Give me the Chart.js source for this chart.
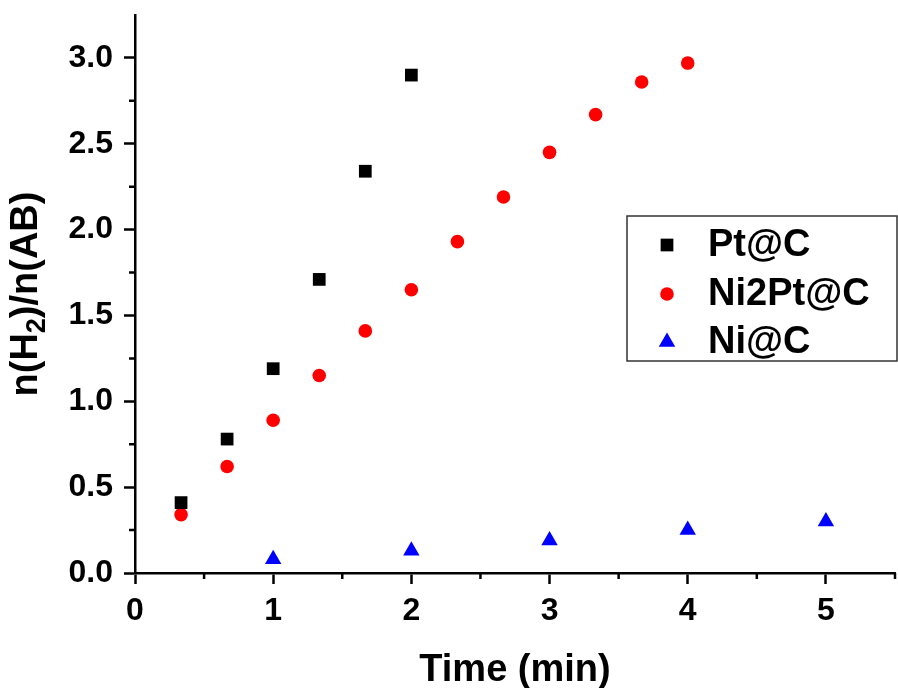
<!DOCTYPE html>
<html>
<head>
<meta charset="utf-8">
<script src="https://cdn.jsdelivr.net/npm/chart.js@4/dist/chart.umd.min.js"></script>
<style>
  html, body { margin: 0; padding: 0; background: #fff; overflow: hidden; }
  #wrap { width: 898px; height: 688px; position: relative; }
  canvas { display: block; }
</style>
</head>
<body>
<div id="wrap"><canvas id="chart"></canvas></div>
<script>
// data
const ptTime = [1/3, 2/3, 1, 4/3, 5/3, 2];
const ptValues = [0.41, 0.78, 1.19, 1.71, 2.34, 2.90];

const ni2ptTime = [1/3, 2/3, 1, 4/3, 5/3, 2, 7/3, 8/3, 3, 10/3, 11/3, 4];
const ni2ptValues = [0.34, 0.62, 0.89, 1.15, 1.41, 1.65, 1.93, 2.19, 2.45, 2.67, 2.86, 2.97];

const niTime = [1, 2, 3, 4, 5];
const niValues = [0.08, 0.13, 0.19, 0.25, 0.30];

const seriesNames = ['Pt@C', 'Ni2Pt@C', 'Ni@C'];
const xTicks = [0, 1, 2, 3, 4, 5];
const yTicks = [0.0, 0.5, 1.0, 1.5, 2.0, 2.5, 3.0];

const FONT = "'Liberation Sans', Arial, sans-serif";

function toPoints(xs, ys) {
    return xs.map((x, i) => ({ x: x, y: ys[i] }));
}

// minor ticks, x tick labels, axis titles and the boxed legend
const extras = {
    id: 'extras',
    afterDraw(chart) {
        const ctx = chart.ctx;
        const xs = chart.scales.x;
        const ys = chart.scales.y;
        const area = chart.chartArea;

        ctx.save();
        ctx.strokeStyle = '#000';
        ctx.lineWidth = 2.5;
        ctx.beginPath();
        for (let v = 0.5; v < 5.6; v += 1) {
            const px = xs.getPixelForValue(v);
            ctx.moveTo(px, area.bottom);
            ctx.lineTo(px, area.bottom + 6);
        }
        for (let v = 0.25; v < 3.25; v += 0.5) {
            const py = ys.getPixelForValue(v);
            ctx.moveTo(area.left, py);
            ctx.lineTo(area.left - 6, py);
        }
        ctx.stroke();

        ctx.fillStyle = '#000';
        ctx.font = 'bold 32px ' + FONT;
        ctx.textAlign = 'center';
        ctx.textBaseline = 'alphabetic';
        xTicks.forEach(v => {
            ctx.fillText(String(v), xs.getPixelForValue(v), area.bottom + 47);
        });

        // x title
        ctx.font = 'bold 38px ' + FONT;
        ctx.fillText('Time (min)', (area.left + area.right) / 2, 681);

        // y title with subscript
        ctx.save();
        ctx.translate(37, (area.top + area.bottom) / 2);
        ctx.rotate(-Math.PI / 2);
        const big = 'bold 38px ' + FONT;
        const small = 'bold 27px ' + FONT;
        const parts = [['n(H', big, 0], ['2', small, 8], [')/n(AB)', big, 0]];
        let total = 0;
        parts.forEach(p => { ctx.font = p[1]; total += ctx.measureText(p[0]).width; });
        let cx = -total / 2;
        ctx.textAlign = 'left';
        parts.forEach(p => {
            ctx.font = p[1];
            ctx.fillText(p[0], cx, p[2]);
            cx += ctx.measureText(p[0]).width;
        });
        ctx.restore();

        // legend
        ctx.lineWidth = 1.5;
        ctx.strokeStyle = '#333';
        ctx.strokeRect(627, 216, 270, 145);
        const rows = [245, 294, 342];
        ctx.font = 'bold 38px ' + FONT;
        ctx.textAlign = 'left';
        ctx.textBaseline = 'middle';
        chart.data.datasets.forEach((ds, i) => {
            ctx.fillStyle = ds.backgroundColor;
            Chart.helpers.drawPoint(ctx, {
                pointStyle: ds.pointStyle,
                radius: ds.pointRadius,
                borderWidth: 0,
                rotation: 0
            }, 667, rows[i]);
            ctx.fillStyle = '#000';
            ctx.fillText(ds.label, 708, rows[i] + 1);
        });
        ctx.restore();
    }
};

const ctx = document.getElementById('chart').getContext('2d');
new Chart(ctx, {
    type: 'scatter',
    data: {
        datasets: [
            {
                label: seriesNames[0],
                data: toPoints(ptTime, ptValues),
                pointStyle: 'rect',
                pointRadius: 9,
                backgroundColor: '#000000',
                borderWidth: 0
            },
            {
                label: seriesNames[1],
                data: toPoints(ni2ptTime, ni2ptValues),
                pointStyle: 'circle',
                pointRadius: 6.8,
                backgroundColor: '#ff0000',
                borderWidth: 0
            },
            {
                label: seriesNames[2],
                data: toPoints(niTime, niValues),
                pointStyle: 'triangle',
                pointRadius: 9.5,
                backgroundColor: '#0000ff',
                borderWidth: 0
            }
        ]
    },
    options: {
        responsive: true,
        maintainAspectRatio: false,
        animation: false,
        layout: { autoPadding: false, padding: { left: 0, top: 15, right: 3, bottom: 0 } },
        plugins: {
            legend: { display: false },
            tooltip: { enabled: false }
        },
        scales: {
            x: {
                type: 'linear',
                min: 0,
                max: 5.5,
                afterFit: s => {
                    s.height = 115;
                    s.paddingLeft = 0; s.paddingRight = 0;
                },
                afterBuildTicks: s => { s.ticks = xTicks.map(v => ({ value: v })); },
                grid: { display: true, drawOnChartArea: false, tickLength: 11, tickWidth: 2.5, tickColor: '#000' },
                border: { display: true, color: '#000', width: 2.5 },
                ticks: { display: false }
            },
            y: {
                type: 'linear',
                min: 0,
                max: 3.25,
                afterFit: s => {
                    s.width = 135;
                    s.paddingTop = 0; s.paddingBottom = 0;
                },
                afterBuildTicks: s => { s.ticks = yTicks.map(v => ({ value: v })); },
                grid: { display: true, drawOnChartArea: false, tickLength: 11, tickWidth: 2.5, tickColor: '#000' },
                border: { display: true, color: '#000', width: 2.5 },
                ticks: {
                    color: '#000',
                    padding: 11,
                    font: { family: FONT, size: 32, weight: 'bold' },
                    callback: v => v.toFixed(1)
                }
            }
        }
    },
    plugins: [extras]
});
</script>
</body>
</html>
